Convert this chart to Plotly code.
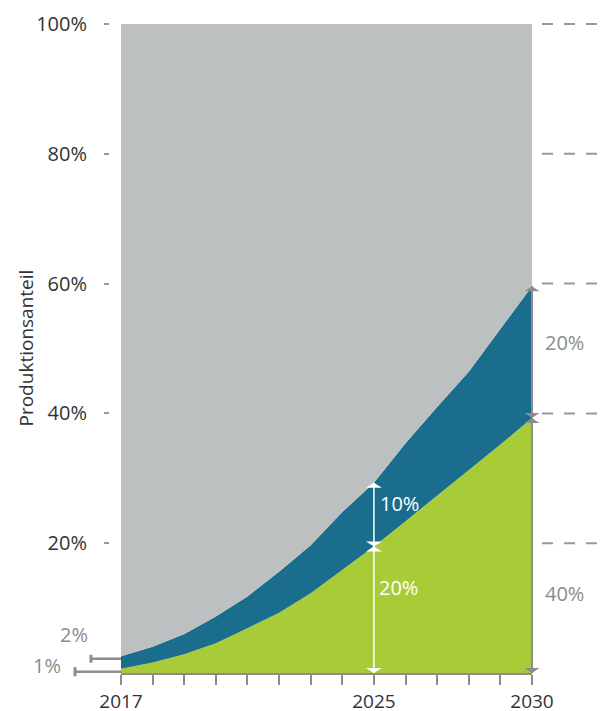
import plotly.graph_objects as go

# ---------------- data ----------------
years = list(range(2017, 2031))
green_share = [0.66, 1.6, 2.9, 4.6, 6.9, 9.3, 12.3, 15.9, 19.5, 23.4, 27.3, 31.2, 35.2, 39.3]
blue_top = [2.6, 4.05, 6.0, 8.7, 11.8, 15.6, 19.7, 24.8, 29.3, 35.4, 41.0, 46.4, 53.0, 59.6]
full_share = [100] * len(years)

y_tick_vals = [20, 40, 60, 80, 100]
y_tick_text = ["20%", "40%", "60%", "80%", "100%"]
x_labeled = [2017, 2025, 2030]
x_tick_text = [str(y) if y in x_labeled else "" for y in years]

GREEN = "#A8CB38"
BLUE = "#1A6D8D"
GREY_AREA = "#BCC0C0"
GREY = "#8C8C8C"
TEXT = "#333333"
FONT = "Open Sans"

# page has an 8px body margin -> figure is drawn 8px right/down
OFF = 8
W, H = 605 - OFF, 711 - OFF
SL, ST = 109, 24          # screen position of plot-area left / top
MR, MB = 73, 38
ML, MT = SL - OFF, ST - OFF
PW, PH = W - ML - MR, H - MT - MB
D0 = 12 / PW  # x-domain start (gap for detached y ticks)

fig = go.Figure()
fig.add_trace(go.Scatter(x=years, y=green_share, mode="lines", line=dict(width=0, color=GREEN),
                         fill="tozeroy", fillcolor=GREEN, hoverinfo="skip", showlegend=False))
fig.add_trace(go.Scatter(x=years, y=blue_top, mode="lines", line=dict(width=0, color=BLUE),
                         fill="tonexty", fillcolor=BLUE, hoverinfo="skip", showlegend=False))
fig.add_trace(go.Scatter(x=years, y=full_share, mode="lines", line=dict(width=0, color=GREY_AREA),
                         fill="tonexty", fillcolor=GREY_AREA, hoverinfo="skip", showlegend=False))


def xp(year):
    return D0 + (year - years[0]) / (years[-1] - years[0]) * (1 - D0)


def yp(v):
    return v / 100.0


shapes = []


def tri(xc, ytip, down, color, halfw=7.5, h=5):
    hw = halfw / PW
    hh = h / PH
    yb = ytip + hh if down else ytip - hh
    shapes.append(dict(type="path", xref="paper", yref="paper",
                       path=f"M {xc-hw},{yb} L {xc+hw},{yb} L {xc},{ytip} Z",
                       fillcolor=color, line=dict(width=0), layer="above"))


def line(x0, y0, x1, y1, color, width=2, dash=None):
    ln = dict(color=color, width=width)
    if dash:
        ln["dash"] = dash
    shapes.append(dict(type="line", xref="paper", yref="paper", x0=x0, y0=y0, x1=x1, y1=y1,
                       line=ln, layer="above"))


# right-side dashed guide lines
for v in y_tick_vals:
    line(1 + 10 / PW, yp(v), 1 + MR / PW, yp(v), "#999999", 2, "11px,11px")

# right-side grey bracket (0-40 and 40-60)
g_end, b_end = green_share[-1], blue_top[-1]
line(1, 0, 1, yp(b_end), GREY, 2)
tri(1, yp(b_end), False, GREY)
tri(1, yp(g_end), True, GREY)
tri(1, yp(g_end), False, GREY)
tri(1, 0, True, GREY)

# white arrows at 2025
i25 = years.index(2025)
x25 = xp(2025)
g25, b25 = green_share[i25], blue_top[i25]
line(x25, 0, x25, yp(b25), "white", 1.5)
tri(x25, yp(b25), False, "white", 8, 5)
tri(x25, yp(g25), True, "white", 8, 5)
tri(x25, yp(g25), False, "white", 8, 5)
tri(x25, 0, True, "white", 8, 5)

# left markers for 2017 values (1%, 2%)
line(-30 / PW + D0, yp(2.2), D0, yp(2.2), GREY, 2.5)
line(-30 / PW + D0, yp(2.2) - 4 / PH, -30 / PW + D0, yp(2.2) + 4 / PH, GREY, 3)
line(-46 / PW + D0, yp(0.2), D0, yp(0.2), GREY, 2.5)
line(-46 / PW + D0, yp(0.2) - 4.5 / PH, -46 / PW + D0, yp(0.2) + 4.5 / PH, GREY, 3)

annotations = [
    dict(text="Produktionsanteil", x=(25 - SL) / PW, y=0.5, xref="paper", yref="paper",
         textangle=-90, showarrow=False, font=dict(family=FONT, size=19, color=TEXT),
         xanchor="center", yanchor="middle"),
    dict(text="10%", x=x25, y=yp((g25 + b25) / 2), xref="paper", yref="paper", xshift=4, yshift=11,
         showarrow=False, xanchor="left", yanchor="middle", font=dict(family=FONT, size=20, color="white")),
    dict(text="20%", x=x25, y=yp(g25 / 2), xref="paper", yref="paper", xshift=3, yshift=22,
         showarrow=False, xanchor="left", yanchor="middle", font=dict(family=FONT, size=20, color="white")),
    dict(text="20%", x=1 + 11 / PW, y=yp(50.9), xref="paper", yref="paper", showarrow=False,
         xanchor="left", yanchor="middle", font=dict(family=FONT, size=20, color=GREY)),
    dict(text="40%", x=1 + 11 / PW, y=yp(12.3), xref="paper", yref="paper", showarrow=False,
         xanchor="left", yanchor="middle", font=dict(family=FONT, size=20, color=GREY)),
    dict(text="2%", x=(90 - SL) / PW, y=yp(5.9), xref="paper", yref="paper", showarrow=False,
         xanchor="right", yanchor="middle", font=dict(family=FONT, size=20, color=GREY)),
    dict(text="1%", x=(63 - SL) / PW, y=yp(1.1), xref="paper", yref="paper", showarrow=False,
         xanchor="right", yanchor="middle", font=dict(family=FONT, size=20, color=GREY)),
]

fig.update_layout(
    width=W, height=H,
    margin=dict(l=ML, r=MR, t=MT, b=MB, pad=0, autoexpand=False),
    paper_bgcolor="white", plot_bgcolor="white",
    font=dict(family=FONT, color=TEXT),
    shapes=shapes, annotations=annotations,
    xaxis=dict(domain=[D0, 1], range=[years[0], years[-1]], tickvals=years, ticktext=x_tick_text,
               showgrid=False, zeroline=False, showline=True, linecolor=GREY, linewidth=2,
               ticks="outside", ticklen=10, tickwidth=2, tickcolor=GREY,
               tickfont=dict(family=FONT, size=19, color=TEXT), ticklabelstandoff=0, anchor="y",
               automargin=False),
    yaxis=dict(range=[0, 100], tickvals=y_tick_vals, ticktext=y_tick_text, anchor="free", position=0,
               showgrid=False, zeroline=False, showline=False,
               ticks="outside", ticklen=5, tickwidth=2, tickcolor="#9a9a9a",
               tickfont=dict(family=FONT, size=20, color=TEXT), ticklabelstandoff=13,
               automargin=False),
)

fig.write_html("out.html")
